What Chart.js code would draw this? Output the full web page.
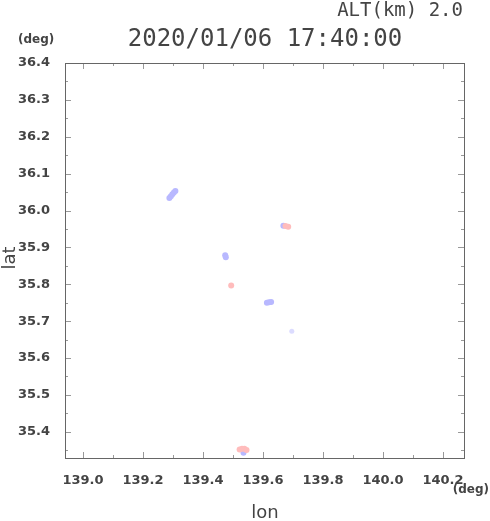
<!DOCTYPE html>
<html>
<head>
<meta charset="utf-8">
<script src="https://cdn.jsdelivr.net/npm/chart.js@4/dist/chart.umd.min.js"></script>
<style>
  html, body { margin: 0; padding: 0; background: #fff; }
  #wrap { width: 490px; height: 521px; }
</style>
</head>
<body>
<div id="wrap"><canvas id="c" width="490" height="521"></canvas></div>
<script>
// axis ranges and ticks
const lonRange = [138.94, 140.27];
const latRange = [35.329, 36.4];
const lonMajor = [139.0, 139.2, 139.4, 139.6, 139.8, 140.0, 140.2];
const lonMinor = [139.1, 139.3, 139.5, 139.7, 139.9, 140.1];
const latMajor = [35.4, 35.5, 35.6, 35.7, 35.8, 35.9, 36.0, 36.1, 36.2, 36.3, 36.4];
const latMinor = [35.35, 35.45, 35.55, 35.65, 35.75, 35.85, 35.95, 36.05, 36.15, 36.25, 36.35];

// echo blobs
const blueLon = [139.288, 139.293, 139.298, 139.303, 139.308, 139.474, 139.476, 139.613, 139.620, 139.627, 139.668, 139.535];
const blueLat = [36.034, 36.039, 36.044, 36.049, 36.053, 35.879, 35.873, 35.750, 35.751, 35.752, 35.959, 35.343];
const pinkLon = [139.675, 139.684, 139.494, 139.522, 139.530, 139.538, 139.545];
const pinkLat = [35.958, 35.956, 35.797, 35.352, 35.354, 35.354, 35.351];
const faintLon = [139.696];
const faintLat = [35.673];

const titleText = "2020/01/06 17:40:00";
const altText = "ALT(km) 2.0";

const toPoints = (xs, ys) => xs.map((x, i) => ({ x: x, y: ys[i] }));

const frame = {
  id: "frame",
  beforeDraw(chart) {
    const ctx = chart.ctx;
    ctx.save();
    ctx.fillStyle = "#fff";
    ctx.fillRect(0, 0, chart.width, chart.height);
    ctx.restore();
  },
  afterDraw(chart) {
    const ctx = chart.ctx;
    const a = chart.chartArea;
    const xs = chart.scales.x, ys = chart.scales.y;
    ctx.save();

    // inward ticks on all four sides
    ctx.strokeStyle = "#999";
    ctx.lineWidth = 1;
    const tickX = (v, len) => {
      const px = Math.round(xs.getPixelForValue(v)) + 0.5;
      ctx.beginPath();
      ctx.moveTo(px, a.bottom); ctx.lineTo(px, a.bottom - len);
      ctx.moveTo(px, a.top); ctx.lineTo(px, a.top + len);
      ctx.stroke();
    };
    const tickY = (v, len) => {
      const py = Math.round(ys.getPixelForValue(v)) + 0.5;
      ctx.beginPath();
      ctx.moveTo(a.left, py); ctx.lineTo(a.left + len, py);
      ctx.moveTo(a.right, py); ctx.lineTo(a.right - len, py);
      ctx.stroke();
    };
    lonMajor.forEach(v => tickX(v, 6));
    lonMinor.forEach(v => tickX(v, 3));
    latMajor.forEach(v => tickY(v, 6));
    latMinor.forEach(v => tickY(v, 3));

    // frame
    ctx.strokeStyle = "#666";
    ctx.strokeRect(Math.round(a.left) + 0.5, Math.round(a.top) + 0.5,
      Math.round(a.right - a.left), Math.round(a.bottom - a.top));

    // texts
    ctx.fillStyle = "#444";
    ctx.textBaseline = "middle";
    ctx.font = "19px 'DejaVu Sans Mono'";
    ctx.textAlign = "right";
    ctx.fillText(altText, 463, 11);
    ctx.font = "24px 'DejaVu Sans Mono'";
    ctx.textAlign = "center";
    ctx.fillText(titleText, 265, 40);
    ctx.font = "bold 12px 'DejaVu Sans'";
    ctx.textAlign = "left";
    ctx.fillText("(deg)", 18, 40);
    ctx.textAlign = "right";
    ctx.fillText("(deg)", 489, 490);
    ctx.font = "18px 'DejaVu Sans'";
    ctx.textAlign = "center";
    ctx.fillText("lon", 265, 513);
    ctx.translate(10, 258);
    ctx.rotate(-Math.PI / 2);
    ctx.fillText("lat", 0, 0);
    ctx.restore();
  }
};

new Chart(document.getElementById("c"), {
  type: "scatter",
  data: {
    datasets: [
      {
        data: toPoints(pinkLon, pinkLat),
        backgroundColor: "#ffbcbc",
        borderWidth: 0,
        pointRadius: 3,
        order: 0
      },
      {
        data: toPoints(blueLon, blueLat),
        backgroundColor: "#b8b8ff",
        borderWidth: 0,
        pointRadius: 3,
        order: 1
      },
      {
        data: toPoints(faintLon, faintLat),
        backgroundColor: "#dcdcff",
        borderWidth: 0,
        pointRadius: 2.5,
        order: 2
      }
    ]
  },
  options: {
    responsive: false,
    animation: false,
    layout: { padding: { left: 0, top: 63, right: 26, bottom: 0 } },
    plugins: { legend: { display: false }, tooltip: { enabled: false } },
    scales: {
      x: {
        type: "linear",
        min: lonRange[0],
        max: lonRange[1],
        afterBuildTicks: s => { s.ticks = lonMajor.map(v => ({ value: v })); },
        afterFit: s => { s.height = 63; },
        grid: { display: false },
        border: { display: false },
        ticks: {
          padding: 7,
          color: "#444",
          font: { family: "DejaVu Sans", size: 13, weight: "bold" },
          maxRotation: 0,
          callback: v => v.toFixed(1)
        }
      },
      y: {
        type: "linear",
        min: latRange[0],
        max: latRange[1],
        afterBuildTicks: s => { s.ticks = latMajor.map(v => ({ value: v })); },
        afterFit: s => { s.width = 65; },
        grid: { display: false },
        border: { display: false },
        ticks: {
          padding: 7,
          color: "#444",
          font: { family: "DejaVu Sans", size: 13, weight: "bold" },
          callback: v => v.toFixed(1)
        }
      }
    }
  },
  plugins: [frame]
});
</script>
</body>
</html>
